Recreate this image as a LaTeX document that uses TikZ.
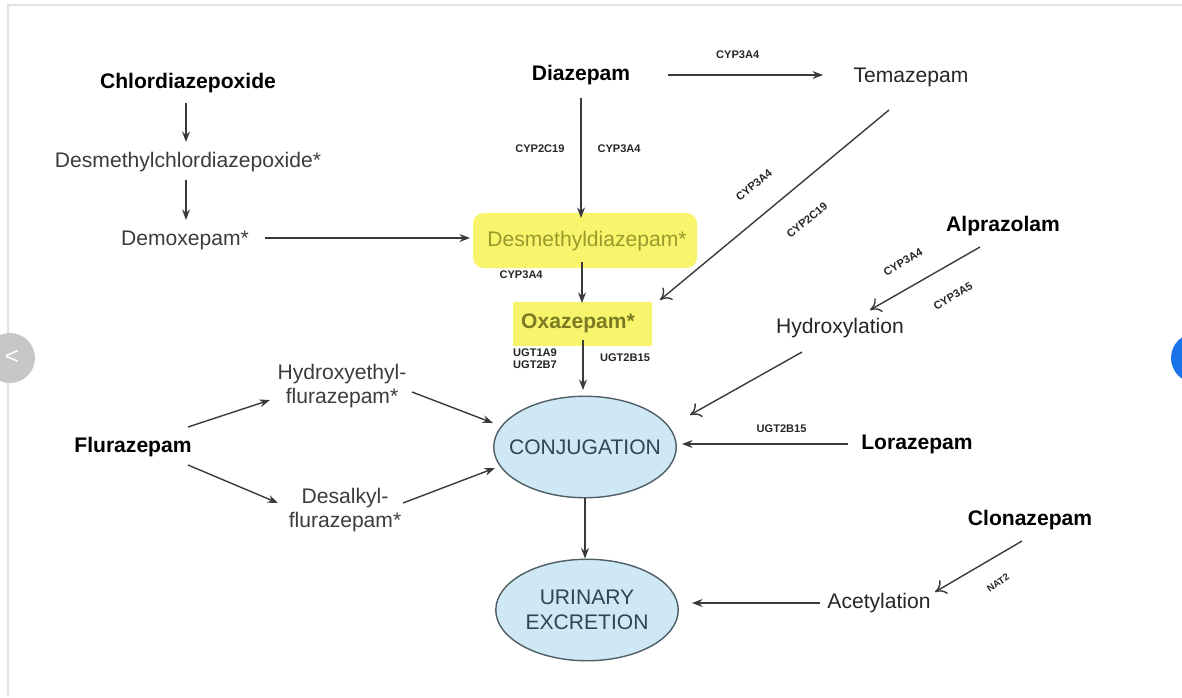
\documentclass[tikz,border=0pt]{standalone}
\usepackage{fontspec}
\setmainfont{Liberation Sans}
\usepackage{tikz}
\usetikzlibrary{arrows.meta}
\usetikzlibrary{shapes.geometric}
\definecolor{linegray}{HTML}{3A3A3A}
\definecolor{textgray}{HTML}{3C3C3C}
\definecolor{poolfill}{HTML}{CFE8F5}
\definecolor{pooldraw}{HTML}{4E5E64}
\definecolor{pooltext}{HTML}{2E4650}
\definecolor{marker}{HTML}{F8F56C}
\definecolor{markedtext}{HTML}{9A9A2C}
\definecolor{framegray}{HTML}{E2E2E2}
\definecolor{nextblue}{HTML}{1A73E8}
\tikzset{>={Stealth[length=6pt,width=4.5pt]},
  drug/.style = {font=\fontsize{12}{14}\selectfont\bfseries, text=black},
  metab/.style = {font=\fontsize{12}{14}\selectfont, text=textgray, align=center},
  step name/.style = {font=\fontsize{12}{14}\selectfont, text=black!85},
  marked/.style = {font=\fontsize{12}{14}\selectfont, text=markedtext},
  enzyme/.style = {font=\fontsize{6.3}{7.2}\selectfont\bfseries, text=black!85, align=left, inner sep=0pt},
  pool/.style = {ellipse, draw=pooldraw, line width=0.8pt, fill=poolfill, text=pooltext,
                 minimum width=3.65cm, minimum height=2.03cm, inner xsep=-6.5pt, inner ysep=0pt,
                 align=center, font=\fontsize{12}{14.5}\selectfont},
  flow/.style = {->, draw=linegray, line width=0.8pt},
  open flow/.style = {-{To[length=6pt,width=9pt]}, draw=linegray, line width=0.8pt}
}
\begin{document}
\begin{tikzpicture}[x=0.02cm,y=-0.02cm]
      \useasboundingbox (0,0) rectangle (1182,697);
      % page frame and carousel buttons of the screenshot
      \draw[framegray, line width=1pt] (8,697) -- (8,5) -- (1182,5);
      \fill[black!22] (10,358) circle (25);
      \node[text=white, font=\fontsize{14}{14}\selectfont] (prev) at (12,357) {<};
      \fill[nextblue] (1196,358) circle (25);

      % highlighter marks
      \fill[marker, rounded corners=6pt] (473,213) rectangle (697,268);
      \fill[marker] (513,302) rectangle (652,346);

      % compounds
      \node[drug] (chlor) at (188,83) {Chlordiazepoxide};
      \node[metab] (desch) at (188,162) {Desmethylchlordiazepoxide*};
      \node[metab] (demox) at (185,240) {Demoxepam*};
      \node[drug] (diaz) at (581,75) {Diazepam};
      \node[step name] (tema) at (911,77) {Temazepam};
      \node[marked] (desmd) at (587,241) {Desmethyldiazepam*};
      \node[marked, font=\fontsize{12}{14}\selectfont\bfseries, text=markedtext!80!black] (oxa) at (578,323) {Oxazepam*};
      \node[drug] (alpra) at (1003,226) {Alprazolam};
      \node[step name] (hydrox) at (840,328) {Hydroxylation};
      \node[drug] (lora) at (917,444) {Lorazepam};
      \node[drug] (fluraz) at (133,447) {Flurazepam};
      \node[metab] (hyfl) at (342,386) {Hydroxyethyl-\\flurazepam*};
      \node[metab] (defl) at (345,510) {Desalkyl-\\flurazepam*};
      \node[step name] (acet) at (879,603) {Acetylation};
      \node[drug] (clona) at (1030,520) {Clonazepam};
      \node[pool] (conj) at (585,447) {CONJUGATION};
      \node[pool] (urin) at (587,610) {URINARY\\EXCRETION};

      % pathways
      \draw[flow] ([shift={(-2,20)}]chlor.center) -- ([shift={(-2,-20)}]desch.center);
      \draw[flow] ([shift={(-2,18)}]desch.center) -- ([shift={(1,-20)}]demox.center);
      \draw[flow] ([shift={(80,-2)}]demox.center) -- ([shift={(-117,-3)}]desmd.center);
      \draw[flow] ([shift={(0,23)}]diaz.center) -- ([shift={(-6,-23)}]desmd.center)
        node[enzyme, pos=0.42, left=9pt] (e1) {CYP2C19}
        node[enzyme, pos=0.42, right=9pt] (e2) {CYP3A4};
      \draw[flow] ([shift={(87,0)}]diaz.center) -- ([shift={(-88,-2)}]tema.center)
        node[enzyme, pos=0.45, above=9pt] (e3) {CYP3A4};
      \draw[flow] ([shift={(-5,21)}]desmd.center) -- ([shift={(4,-20)}]oxa.center)
        node[enzyme, pos=0.3, left=22pt] (e4) {CYP3A4};
      \draw[flow] ([shift={(5,17)}]oxa.center) -- ([shift={(-2,-57)}]conj.center);
      \node[enzyme, font=\fontsize{6.3}{6.9}\selectfont\bfseries] (e5) at (535,359) {UGT1A9\\UGT2B7};
      \node[enzyme] (e6) at (625,358) {UGT2B15};
      \draw[open flow] ([shift={(-22,33)}]tema.center) -- ([shift={(82,-23)}]oxa.center);
      \node[enzyme, rotate=40] (e7) at (754,185) {CYP3A4};
      \node[enzyme, rotate=40] (e8) at (807,220) {CYP2C19};
      \draw[open flow] ([shift={(-23,21)}]alpra.center) -- ([shift={(30,-18)}]hydrox.center);
      \node[enzyme, rotate=30] (e9) at (903,262) {CYP3A4};
      \node[enzyme, rotate=30] (e10) at (953,296) {CYP3A5};
      \draw[open flow] ([shift={(-38,24)}]hydrox.center) -- ([shift={(105,-32)}]conj.center);
      \draw[flow] ([shift={(-69,0)}]lora.center) -- ([shift={(97,-3)}]conj.center)
        node[enzyme, pos=0.4, above=6pt] (e11) {UGT2B15};
      \draw[flow] ([shift={(55,-20)}]fluraz.center) -- ([shift={(-72,14)}]hyfl.center);
      \draw[flow] ([shift={(55,18)}]fluraz.center) -- ([shift={(-67,-7)}]defl.center);
      \draw[flow] ([shift={(70,6)}]hyfl.center) -- ([shift={(-92,-24)}]conj.center);
      \draw[flow] ([shift={(58,-7)}]defl.center) -- ([shift={(-90,21)}]conj.center);
      \draw[flow] (conj) -- (conj |- urin.north);
      \draw[flow] ([shift={(-59,0)}]acet.center) -- ([shift={(105,-7)}]urin.center);
      \draw[open flow] ([shift={(-8,21)}]clona.center) -- ([shift={(56,-11)}]acet.center);
      \node[enzyme, rotate=35, font=\fontsize{5.5}{6}\selectfont\bfseries] (e12) at (998,583) {NAT2};
    \end{tikzpicture}
\end{document}
